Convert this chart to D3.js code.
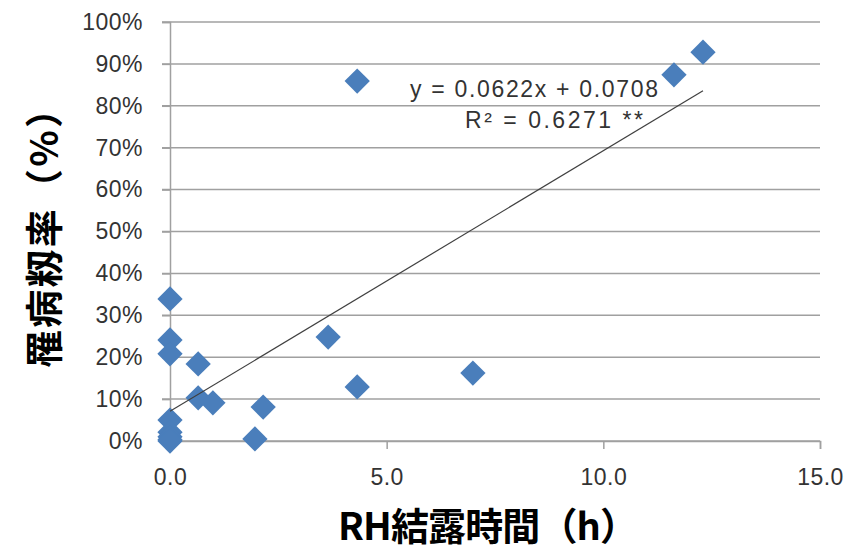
<!DOCTYPE html>
<html>
<head>
<meta charset="utf-8">
<script src="https://cdn.jsdelivr.net/npm/d3@7"></script>
<style>
  body { margin: 0; background: #fff; }
  svg { display: block; }
</style>
</head>
<body>
<div id="chart"></div>
<script>
// data
var hours = [0, 0, 0, 0, 0, 0, 0, 0, 0.65, 0.65, 0.99, 2.15, 1.96, 3.65, 4.32, 4.32, 6.99, 11.63, 12.3];
var rates = [0.339, 0.241, 0.208, 0.05, 0.021, 0.01, 0.003, 0.0, 0.184, 0.103, 0.091, 0.081, 0.005, 0.248, 0.129, 0.859, 0.162, 0.874, 0.928];
var xTicks = [0, 5, 10, 15];
var yTicks = [0, 0.1, 0.2, 0.3, 0.4, 0.5, 0.6, 0.7, 0.8, 0.9, 1.0];
var trend = { slope: 0.0622, intercept: 0.0708, xMin: 0, xMax: 12.3 };
var eqLines = ["y = 0.0622x + 0.0708", "R² = 0.6271 **"];

var width = 848, height = 551;
var margin = { left: 170, right: 28, top: 22, bottom: 110 };

var svg = d3.select("#chart").append("svg")
    .attr("width", width)
    .attr("height", height);

var x = d3.scaleLinear().domain([0, 15]).range([margin.left, width - margin.right]);
var y = d3.scaleLinear().domain([0, 1]).range([height - margin.bottom, margin.top]);

var gridColor = "#a0a0a0";
var labelFont = "'Liberation Sans', 'Noto Sans', sans-serif";
var titleFont = "'Noto Sans CJK JP', sans-serif";

// horizontal gridlines
svg.append("g")
    .selectAll("line")
    .data(yTicks)
    .join("line")
    .attr("x1", x(0) - 8)
    .attr("x2", x(15))
    .attr("y1", function (d) { return y(d); })
    .attr("y2", function (d) { return y(d); })
    .attr("stroke", gridColor)
    .attr("stroke-width", 1.5);

// y axis
var yAxis = svg.append("g")
    .attr("transform", "translate(" + x(0) + ",0)")
    .call(d3.axisLeft(y).tickValues(yTicks).tickFormat(d3.format(".0%")).tickSize(8).tickPadding(19));
yAxis.select(".domain").attr("stroke", gridColor).attr("stroke-width", 1.5);
yAxis.selectAll(".tick line").attr("stroke", gridColor).attr("stroke-width", 1.5);
yAxis.selectAll("text")
    .attr("fill", "#333")
    .style("font-family", labelFont)
    .style("font-size", "23px")
    .style("letter-spacing", "0.5px");

// x axis
var xAxis = svg.append("g")
    .attr("transform", "translate(0," + y(0) + ")")
    .call(d3.axisBottom(x).tickValues(xTicks).tickFormat(d3.format(".1f")).tickSize(8).tickPadding(20));
xAxis.select(".domain").attr("stroke", gridColor).attr("stroke-width", 1.5);
xAxis.selectAll(".tick line").attr("stroke", gridColor).attr("stroke-width", 1.5);
xAxis.selectAll("text")
    .attr("fill", "#333")
    .style("font-family", labelFont)
    .style("font-size", "23px")
    .style("letter-spacing", "0.5px");

// points (diamonds)
var diamond = d3.symbol().type(d3.symbolSquare).size(320);
svg.append("g")
    .selectAll("path")
    .data(hours)
    .join("path")
    .attr("d", diamond)
    .attr("transform", function (d, i) { return "translate(" + x(d) + "," + y(rates[i]) + ") rotate(45)"; })
    .attr("fill", "#4a7ebb");

// trend line
svg.append("line")
    .attr("x1", x(trend.xMin))
    .attr("y1", y(trend.intercept + trend.slope * trend.xMin))
    .attr("x2", x(trend.xMax))
    .attr("y2", y(trend.intercept + trend.slope * trend.xMax))
    .attr("stroke", "#404040")
    .attr("stroke-width", 1.2);

// equation
svg.append("text")
    .attr("x", 410)
    .attr("y", 97)
    .attr("textLength", 248)
    .attr("lengthAdjust", "spacing")
    .attr("fill", "#333")
    .style("font-family", labelFont)
    .style("font-size", "23px")
    .text(eqLines[0]);
svg.append("text")
    .attr("x", 465)
    .attr("y", 128)
    .attr("textLength", 178)
    .attr("lengthAdjust", "spacing")
    .attr("fill", "#333")
    .style("font-family", labelFont)
    .style("font-size", "23px")
    .text(eqLines[1]);

// axis titles
svg.append("text")
    .attr("x", 338)
    .attr("y", 540)
    .attr("textLength", 300)
    .attr("lengthAdjust", "spacing")
    .attr("fill", "#000")
    .style("font-family", titleFont)
    .style("font-weight", "bold")
    .style("font-size", "38px")
    .text("RH結露時間（h）");

svg.append("text")
    .attr("transform", "translate(58,368) rotate(-90)")
    .attr("textLength", 278)
    .attr("lengthAdjust", "spacing")
    .attr("fill", "#000")
    .style("font-family", titleFont)
    .style("font-weight", "bold")
    .style("font-size", "38px")
    .text("罹病籾率（%）");
</script>
</body>
</html>
